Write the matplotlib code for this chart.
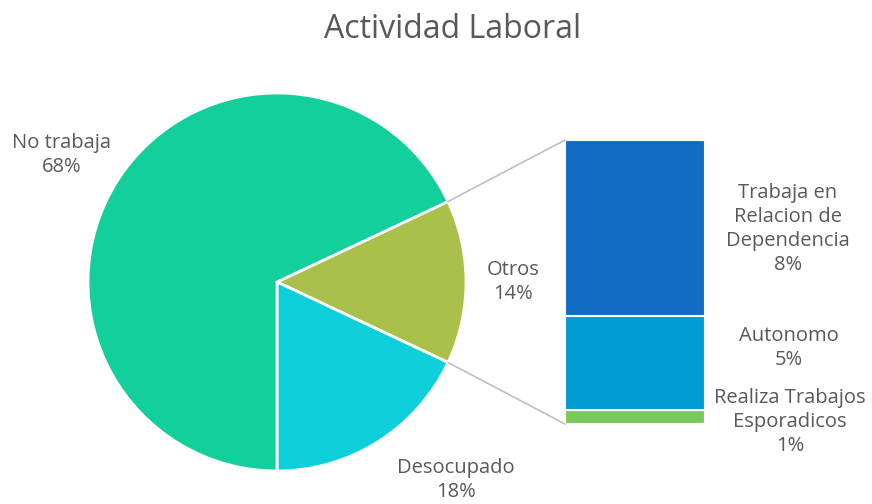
import numpy as np
import matplotlib
matplotlib.use('Agg')
import matplotlib.pyplot as plt
from matplotlib.patches import ConnectionPatch

# datos del grafico
titulo = 'Actividad Laboral'
pie_labels = ['Otros', 'Desocupado', 'No trabaja']
pie_values = [14, 18, 68]
pie_colors = ['#a9c14b', '#0dcfd9', '#13cf9b']

bar_labels = ['Realiza Trabajos\nEsporadicos', 'Autonomo', 'Trabaja en\nRelacion de\nDependencia']
bar_values = [0.7, 4.6, 8.6]
bar_pct = [1, 5, 8]
bar_colors = ['#7ac95c', '#009cd4', '#116dc4']

text_color = '#595959'
plt.rcParams['font.family'] = ['Open Sans', 'DejaVu Sans']

fig = plt.figure(figsize=(8.72, 5.04), dpi=100)
W, H = 872, 504

# ejes del pie: centro (277, 282) px, radio 189 px
cx, cy, r = 277, 282, 189
ax_pie = fig.add_axes([(cx - r) / W, (H - cy - r) / H, 2 * r / W, 2 * r / H])
start = 360 * pie_values[0] / 100 / 2
wedges, _ = ax_pie.pie(pie_values, colors=pie_colors, startangle=start, counterclock=False,
                       wedgeprops=dict(edgecolor='white', linewidth=2))
ax_pie.set_xlim(-1, 1)
ax_pie.set_ylim(-1, 1)
ax_pie.set_aspect('equal')
ax_pie.axis('off')

# posiciones de etiquetas en px
pie_label_pos = {'No trabaja': (62, 155), 'Otros': (513, 282), 'Desocupado': (456, 480)}
for lab, val in zip(pie_labels, pie_values):
    px, py = pie_label_pos[lab]
    ax_pie.text((px - cx) / r, (cy - py) / r, f'{lab}\n{val}%', ha='center', va='center',
                fontsize=14.5, color=text_color, linespacing=1.25)

# ejes de la barra
bx0, bx1, by0, by1 = 565, 705, 140, 424
ax_bar = fig.add_axes([bx0 / W, (H - by1) / H, (bx1 - bx0) / W, (by1 - by0) / H])
total = sum(bar_values)
bottom = 0
for val, col in zip(bar_values, bar_colors):
    ax_bar.bar(0, val, bottom=bottom, width=1, color=col, edgecolor='white', linewidth=1.5)
    bottom += val
ax_bar.set_xlim(-0.5, 0.5)
ax_bar.set_ylim(0, total)
ax_bar.axis('off')

bar_label_pos = [(790, 422), (789, 348), (788, 229)]
for lab, pct, (px, py) in zip(bar_labels, bar_pct, bar_label_pos):
    fig.text(px / W, (H - py) / H, f'{lab}\n{pct}%', ha='center', va='center',
             fontsize=14.5, color=text_color, linespacing=1.25)

# lineas de conexion
theta = np.deg2rad(start)
for sgn, ytop in [(1, total), (-1, 0)]:
    con = ConnectionPatch(xyA=(np.cos(theta), sgn * np.sin(theta)), coordsA=ax_pie.transData,
                          xyB=(-0.5, ytop), coordsB=ax_bar.transData,
                          color='#bfbfbf', linewidth=1.2)
    fig.add_artist(con)

fig.text(453 / W, (H - 30) / H, titulo, ha='center', va='center', fontsize=23,
         color=text_color)

fig.savefig('out.png', dpi=100)
